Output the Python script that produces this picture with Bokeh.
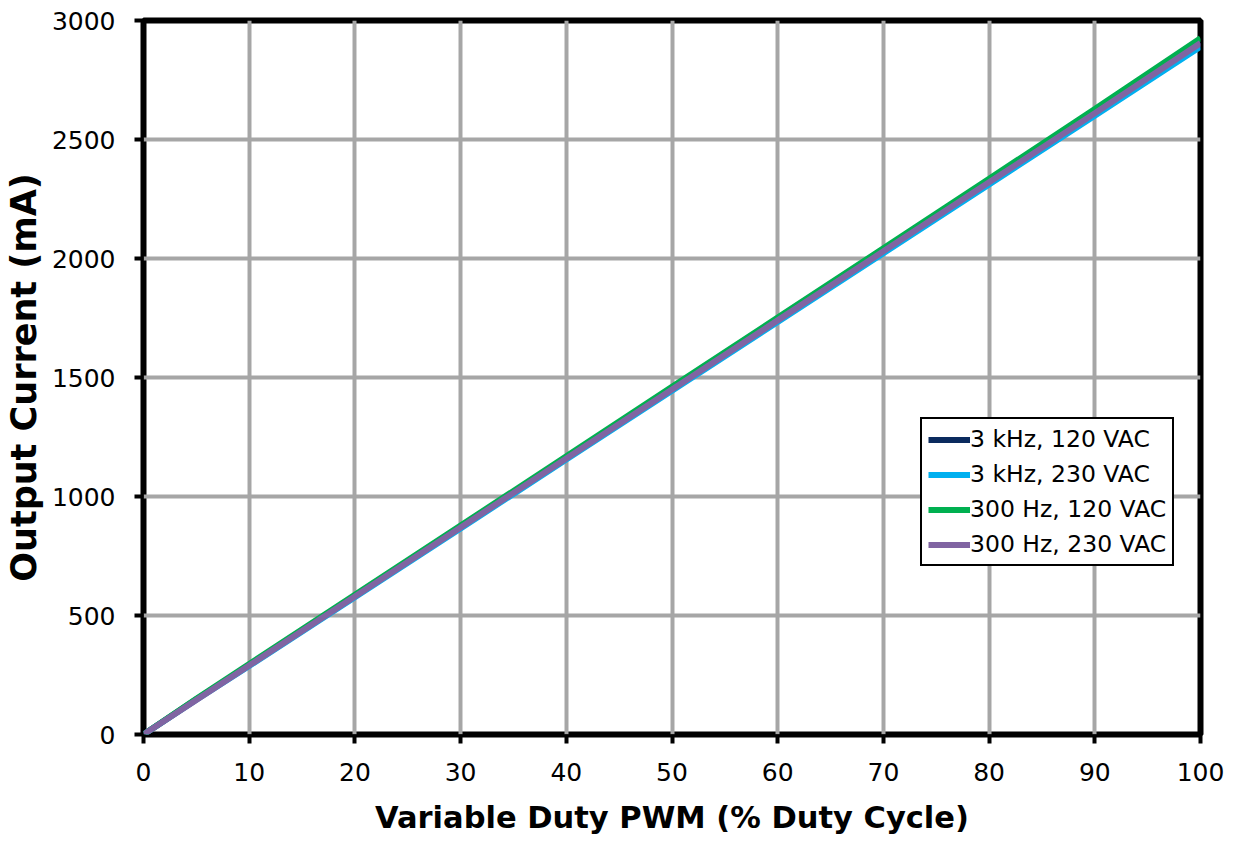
from bokeh.plotting import figure
from bokeh.models import Range1d, FixedTicker, Legend, LegendItem
from bokeh.embed import file_html
from bokeh.resources import INLINE

duty = [0, 5, 10, 20, 30, 40, 50, 60, 70, 80, 90, 100]
s_3k_120 = [0, 148, 292, 582, 872, 1162, 1452, 1742, 2032, 2322, 2615, 2908]
s_3k_230 = [0, 146, 288, 577, 866, 1155, 1444, 1733, 2022, 2311, 2600, 2890]
s_300_120 = [0, 150, 296, 587, 878, 1169, 1461, 1752, 2043, 2335, 2628, 2925]
s_300_230 = [0, 145, 290, 580, 870, 1160, 1450, 1740, 2030, 2320, 2610, 2905]

names = ["3 kHz, 120 VAC", "3 kHz, 230 VAC", "300 Hz, 120 VAC", "300 Hz, 230 VAC"]
colors = ["#0B2A5E", "#00B0F0", "#00B050", "#8064A2"]
series = [s_3k_120, s_3k_230, s_300_120, s_300_230]

x_ticks = [0, 10, 20, 30, 40, 50, 60, 70, 80, 90, 100]
y_ticks = [0, 500, 1000, 1500, 2000, 2500, 3000]

FONT = "DejaVu Sans"

p = figure(width=1233, height=838, output_backend="svg", toolbar_location=None,
           x_range=Range1d(0, 100), y_range=Range1d(0, 3000),
           min_border_left=141, min_border_right=33, min_border_top=20, min_border_bottom=104)

p.background_fill_color = "white"
p.border_fill_color = "white"
p.outline_line_color = "black"
p.outline_line_width = 6
p.outline_line_alpha = 1

for ax in (p.xaxis[0], p.yaxis[0]):
    ax.axis_line_color = None
    ax.major_tick_line_color = "black"
    ax.major_tick_line_width = 4
    ax.major_tick_out = 9
    ax.major_tick_in = 0
    ax.minor_tick_line_color = None
    ax.major_label_text_font = FONT
    ax.major_label_text_font_size = "25px"
    ax.major_label_text_color = "black"
    ax.axis_label_text_font = FONT
    ax.axis_label_text_font_style = "bold"
    ax.axis_label_text_color = "black"

p.xaxis.axis_label_text_font_size = "30.5px"
p.yaxis.axis_label_text_font_size = "35px"
p.xaxis.ticker = FixedTicker(ticks=x_ticks)
p.yaxis.ticker = FixedTicker(ticks=y_ticks)
p.xaxis.axis_label = "Variable Duty PWM (% Duty Cycle)"
p.yaxis.axis_label = "Output Current (mA)"
p.xaxis.major_label_standoff = 19
p.yaxis.major_label_standoff = 19
p.xaxis.axis_label_standoff = 16
p.yaxis.axis_label_standoff = 5

p.xgrid.ticker = FixedTicker(ticks=x_ticks)
p.ygrid.ticker = FixedTicker(ticks=y_ticks)
for g in (p.xgrid[0], p.ygrid[0]):
    g.grid_line_color = "#A6A6A6"
    g.grid_line_width = 4
    g.grid_line_alpha = 1

items = []
for name, col, ys in zip(names, colors, series):
    r = p.line(duty, ys, line_color=col, line_width=6)
    items.append(LegendItem(label=name, renderers=[r]))

legend = Legend(items=items, location=(777, 168))
legend.label_text_font = FONT
legend.label_text_font_size = "23.5px"
legend.label_text_color = "black"
legend.label_standoff = 0
legend.glyph_width = 42
legend.glyph_height = 25
legend.label_height = 25
legend.spacing = 7
legend.padding = 6
legend.margin = 0
legend.border_line_color = "black"
legend.border_line_width = 2
legend.border_line_alpha = 1
legend.background_fill_color = "white"
legend.background_fill_alpha = 1
p.add_layout(legend, "center")

open("out.html", "w").write(file_html(p, INLINE))
